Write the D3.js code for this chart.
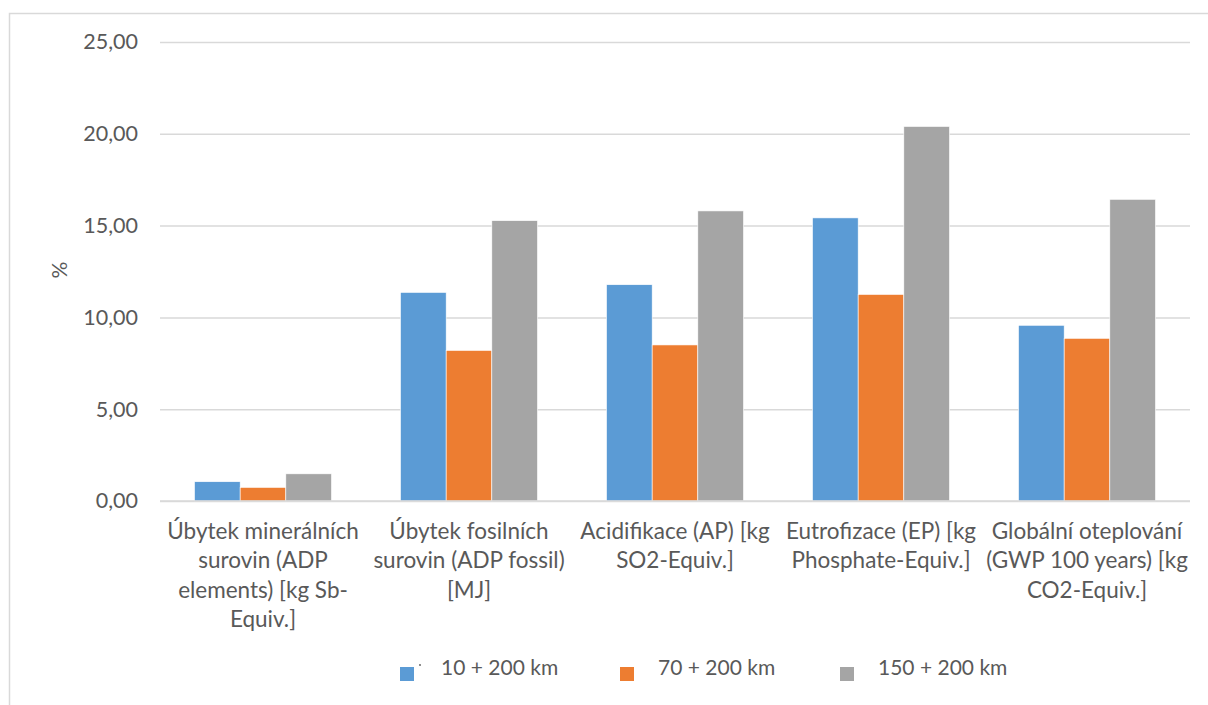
<!DOCTYPE html>
<html>
<head>
<meta charset="utf-8">
<script src="https://cdn.jsdelivr.net/npm/d3@7"></script>
<style>
  html, body { margin: 0; padding: 0; background: #fff; }
  svg { display: block; font-family: Lato, "Liberation Sans", sans-serif; }
</style>
</head>
<body>
<svg id="chart" width="1208" height="705"></svg>
<script>
// Impact categories (label lines as they wrap under each group)
const categories = [
  ["Úbytek minerálních", "surovin (ADP", "elements) [kg Sb-", "Equiv.]"],
  ["Úbytek fosilních", "surovin (ADP fossil)", "[MJ]"],
  ["Acidifikace (AP) [kg", "SO2-Equiv.]"],
  ["Eutrofizace (EP) [kg", "Phosphate-Equiv.]"],
  ["Globální oteplování", "(GWP 100 years) [kg", "CO2-Equiv.]"]
];
const seriesNames = ["10 + 200 km", "70 + 200 km", "150 + 200 km"];
const values10 = [1.05, 11.36, 11.78, 15.42, 9.57];
const values70 = [0.74, 8.20, 8.50, 11.25, 8.86];
const values150 = [1.48, 15.27, 15.80, 20.40, 16.43];
const yTicks = [0, 5, 10, 15, 20, 25];
const colors = ["#5B9BD5", "#ED7D31", "#A5A5A5"];

const series = [values10, values70, values150];
const svg = d3.select("#chart");
const textColor = "#595959";
const gridColor = "#d9d9d9";

// Chart frame
svg.append("rect")
  .attr("x", 9.5).attr("y", 13.5)
  .attr("width", 1400).attr("height", 900)
  .attr("fill", "none").attr("stroke", gridColor).attr("stroke-width", 1.5);

const plot = { left: 160, right: 1190, top: 42, bottom: 501 };

const x0 = d3.scaleBand()
  .domain(d3.range(categories.length))
  .range([plot.left, plot.right])
  .paddingInner(0.335).paddingOuter(0.1675);
const x1 = d3.scaleBand()
  .domain(d3.range(series.length))
  .range([0, x0.bandwidth()]);
const y = d3.scaleLinear().domain([0, 25]).range([plot.bottom, plot.top]);

// Horizontal gridlines and value labels
const yAxis = d3.axisLeft(y)
  .tickValues(yTicks)
  .tickSize(-(plot.right - plot.left))
  .tickPadding(22)
  .tickFormat(d => d3.format(".2f")(d).replace(".", ","));
const gy = svg.append("g")
  .attr("transform", `translate(${plot.left},0)`)
  .call(yAxis);
gy.select(".domain").remove();
gy.selectAll(".tick line").attr("stroke", gridColor).attr("stroke-width", 1.5);
gy.selectAll(".tick text")
  .attr("fill", textColor)
  .style("font-size", "21.5px")
  .style("font-family", "Lato, sans-serif");

// Bars
const groups = svg.append("g").selectAll("g")
  .data(categories.map((c, i) => i))
  .join("g")
  .attr("transform", i => `translate(${x0(i)},0)`);
groups.selectAll("rect")
  .data(i => series.map((s, k) => ({ k, v: s[i] })))
  .join("rect")
  .attr("x", d => x1(d.k))
  .attr("width", x1.bandwidth())
  .attr("y", d => y(d.v))
  .attr("height", d => y(0) - y(d.v))
  .attr("fill", d => colors[d.k])
  .attr("stroke", "#fff").attr("stroke-width", 0.6);

// Category axis baseline
svg.append("line")
  .attr("x1", plot.left).attr("x2", plot.right)
  .attr("y1", y(0)).attr("y2", y(0))
  .attr("stroke", gridColor).attr("stroke-width", 1.5);

// Category labels
const catLabels = svg.append("g").selectAll("text")
  .data(categories)
  .join("text")
  .attr("text-anchor", "middle")
  .attr("fill", textColor)
  .style("font-size", "22.5px")
  .attr("transform", (d, i) => `translate(${x0(i) + x0.bandwidth() / 2},539)`);
catLabels.selectAll("tspan")
  .data(d => d)
  .join("tspan")
  .attr("x", 0)
  .attr("y", (d, j) => j * 29.3)
  .text(d => d);

// Y axis title
svg.append("text")
  .attr("transform", "translate(67,270) rotate(-90)")
  .attr("text-anchor", "middle")
  .attr("fill", textColor)
  .style("font-size", "21px")
  .text("%");

// Legend
const legendX = [400, 620, 840];
const legendTextDx = [41, 38, 38];
const legend = svg.append("g").selectAll("g")
  .data(seriesNames)
  .join("g")
  .attr("transform", (d, i) => `translate(${legendX[i]},667)`);
legend.append("rect")
  .attr("width", 14).attr("height", 14)
  .attr("fill", (d, i) => colors[i]);
legend.append("text")
  .attr("x", (d, i) => legendTextDx[i]).attr("y", 7.5)
  .attr("fill", textColor)
  .style("font-size", "21px")
  .text(d => d);
// small marker dot beside the first legend key
legend.filter((d, i) => i === 0).append("circle")
  .attr("cx", 20).attr("cy", -2).attr("r", 0.9)
  .attr("fill", textColor);
</script>
</body>
</html>
